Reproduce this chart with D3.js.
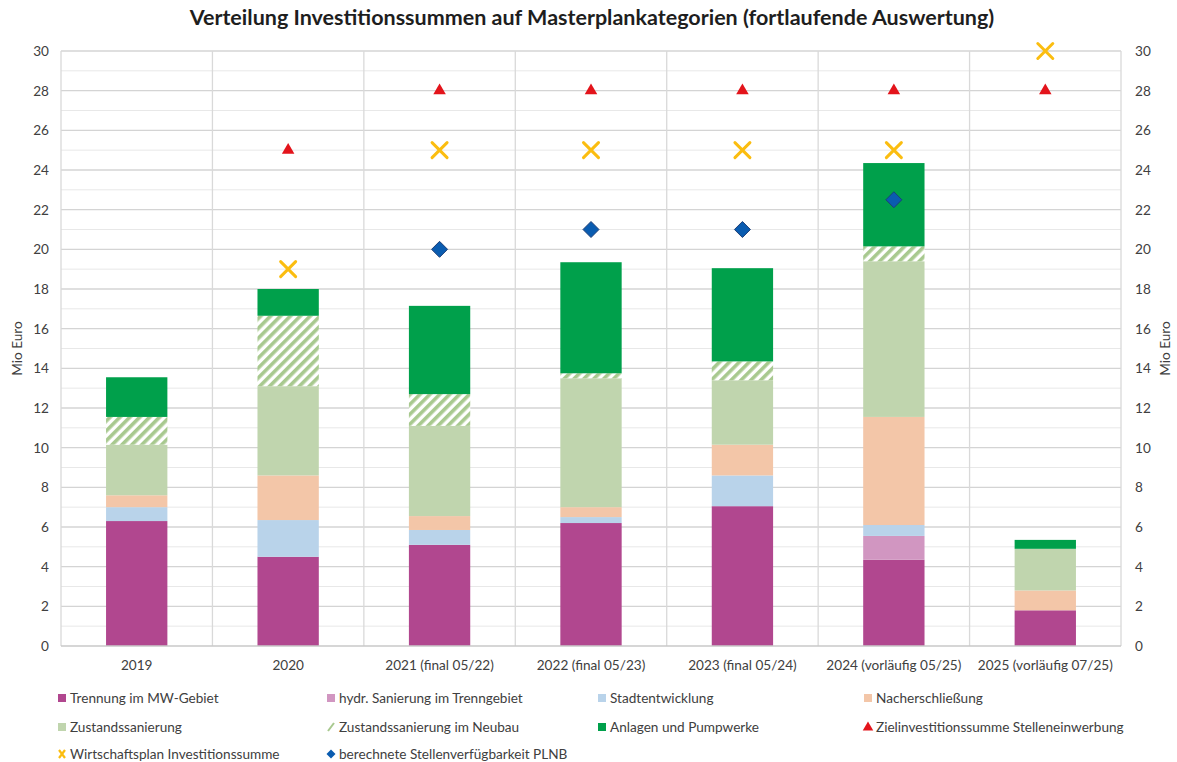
<!DOCTYPE html>
<html>
<head>
<meta charset="utf-8">
<script src="https://cdn.jsdelivr.net/npm/d3@7"></script>
<style>
  body { margin: 0; background: #fff; }
  text { font-family: Lato, "Open Sans", sans-serif; fill: #404040; }
</style>
</head>
<body>
<div id="chart"></div>
<script>
"use strict";

var categories = ["2019", "2020", "2021 (final 05/22)", "2022 (final 05/23)", "2023 (final 05/24)", "2024 (vorläufig 05/25)", "2025 (vorläufig 07/25)"];

// gestapelte Balken (Mio Euro)
var trennung = [6.3, 4.5, 5.1, 6.2, 7.05, 4.35, 1.8];
var hydrSanierung = [0, 0, 0, 0, 0, 1.2, 0];
var stadtentwicklung = [0.7, 1.85, 0.75, 0.3, 1.55, 0.55, 0];
var nacherschliessung = [0.6, 2.25, 0.7, 0.5, 1.55, 5.45, 1.0];
var zustandssanierung = [2.55, 4.5, 4.55, 6.5, 3.25, 7.85, 2.1];
var zustandNeubau = [1.4, 3.55, 1.6, 0.25, 0.95, 0.75, 0];
var anlagen = [2.0, 1.35, 4.45, 5.6, 4.7, 4.2, 0.45];

// Punkte
var zielSumme = [null, 25, 28, 28, 28, 28, 28];
var wirtschaftsplan = [null, 19, 25, 25, 25, 25, 30];
var stellen = [null, null, 20, 21, 21, 22.5, null];

var yTicks = [0, 2, 4, 6, 8, 10, 12, 14, 16, 18, 20, 22, 24, 26, 28, 30];

var series = [
    {key: "trennung", name: "Trennung im MW-Gebiet", values: trennung, color: "#b1478f"},
    {key: "hydr", name: "hydr. Sanierung im Trenngebiet", values: hydrSanierung, color: "#d196c1"},
    {key: "stadt", name: "Stadtentwicklung", values: stadtentwicklung, color: "#b9d3ea"},
    {key: "nacher", name: "Nacherschließung", values: nacherschliessung, color: "#f3c6a8"},
    {key: "zustand", name: "Zustandssanierung", values: zustandssanierung, color: "#c0d5ae"},
    {key: "neubau", name: "Zustandssanierung im Neubau", values: zustandNeubau, color: "url(#hatch)"},
    {key: "anlagen", name: "Anlagen und Pumpwerke", values: anlagen, color: "#00a04b"}
];

var W = 1177, H = 762;
var mLeft = 61, mRight = 1121, mTop = 51, mBottom = 646;
var fs = 13.6;

var svg = d3.select("#chart").append("svg")
    .attr("width", W)
    .attr("height", H);

var pattern = svg.append("defs").append("pattern")
    .attr("id", "hatch")
    .attr("patternUnits", "userSpaceOnUse")
    .attr("width", 7)
    .attr("height", 7)
    .attr("patternTransform", "rotate(45)");
pattern.append("rect").attr("width", 7).attr("height", 7).attr("fill", "#fff");
pattern.append("rect").attr("width", 3.6).attr("height", 7).attr("fill", "#a8c98f");

var x = d3.scaleBand().domain(categories).range([mLeft, mRight]);
var y = d3.scaleLinear().domain([0, 30]).range([mBottom, mTop]);

// Gitter
svg.append("g").selectAll("line").data(d3.range(1, 31)).enter()
    .append("line")
        .attr("x1", mLeft).attr("x2", mRight)
        .attr("y1", function(d){ return y(d); })
        .attr("y2", function(d){ return y(d); })
        .attr("stroke", function(d){ return d % 2 === 0 ? "#d4d4d4" : "#e8e8e8"; })
        .attr("stroke-width", function(d){ return d % 2 === 0 ? 1.3 : 1; });

svg.append("g").selectAll("line").data(d3.range(categories.length + 1)).enter()
    .append("line")
        .attr("x1", function(d){ return mLeft + d * x.bandwidth(); })
        .attr("x2", function(d){ return mLeft + d * x.bandwidth(); })
        .attr("y1", mTop).attr("y2", mBottom)
        .attr("stroke", "#d9d9d9")
        .attr("stroke-width", 1.3);

// Balken
var rows = categories.map(function(c, i){
    var r = {cat: c};
    series.forEach(function(s){ r[s.key] = s.values[i]; });
    return r;
});
var stacked = d3.stack().keys(series.map(function(s){ return s.key; }))(rows);
var barW = x.bandwidth() * 0.405;

svg.append("g").selectAll("g").data(stacked).enter()
    .append("g")
        .attr("fill", function(d, i){ return series[i].color; })
    .selectAll("rect").data(function(d){ return d; }).enter()
    .append("rect")
        .attr("x", function(d){ return x(d.data.cat) + (x.bandwidth() - barW) / 2; })
        .attr("y", function(d){ return y(d[1]); })
        .attr("width", barW)
        .attr("height", function(d){ return y(d[0]) - y(d[1]); });

// x-Achse
svg.append("line")
    .attr("x1", mLeft).attr("x2", mRight)
    .attr("y1", mBottom).attr("y2", mBottom)
    .attr("stroke", "#c8c8c8").attr("stroke-width", 1.3);

var xAxis = svg.append("g")
    .attr("transform", "translate(0," + mBottom + ")")
    .call(d3.axisBottom(x).tickSize(0).tickPadding(14));
xAxis.select(".domain").remove();
xAxis.selectAll("text").attr("font-size", fs);

// y-Achsen
var yLeft = svg.append("g")
    .attr("transform", "translate(" + (mLeft - 12) + ",0)")
    .call(d3.axisLeft(y).tickValues(yTicks).tickSize(0).tickPadding(0));
var yRight = svg.append("g")
    .attr("transform", "translate(" + (mRight + 14) + ",0)")
    .call(d3.axisRight(y).tickValues(yTicks).tickSize(0).tickPadding(0));
[yLeft, yRight].forEach(function(a){
    a.select(".domain").remove();
    a.selectAll("text").attr("font-size", fs);
});
svg.selectAll(".tick text").style("font-family", "Lato, sans-serif").style("fill", "#404040");

svg.append("text")
    .attr("transform", "translate(22," + ((mTop + mBottom) / 2) + ") rotate(-90)")
    .attr("text-anchor", "middle")
    .attr("font-size", fs)
    .text("Mio Euro");
svg.append("text")
    .attr("transform", "translate(1170," + ((mTop + mBottom) / 2) + ") rotate(-90)")
    .attr("text-anchor", "middle")
    .attr("font-size", fs)
    .text("Mio Euro");

// Titel
svg.append("text")
    .attr("x", 592).attr("y", 25)
    .attr("text-anchor", "middle")
    .attr("font-size", 21.5)
    .attr("font-weight", "bold")
    .style("fill", "#1e1e1e")
    .text("Verteilung Investitionssummen auf Masterplankategorien (fortlaufende Auswertung)");

// Markierungen
function points(values){
    return values.map(function(v, i){ return {i: i, v: v}; })
        .filter(function(d){ return d.v !== null; });
}
var cx = function(i){ return x(categories[i]) + x.bandwidth() / 2; };

svg.append("g").selectAll("path").data(points(zielSumme)).enter()
    .append("path")
        .attr("d", d3.symbol().type(d3.symbolTriangle).size(68))
        .attr("transform", function(d){ return "translate(" + cx(d.i) + "," + y(d.v) + ")"; })
        .attr("fill", "#e3141b");

svg.append("g").selectAll("path").data(points(wirtschaftsplan)).enter()
    .append("path")
        .attr("d", "M-7.5,-7.5L7.5,7.5M-7.5,7.5L7.5,-7.5")
        .attr("transform", function(d){ return "translate(" + cx(d.i) + "," + y(d.v) + ")"; })
        .attr("fill", "none")
        .attr("stroke", "#fbbd10").attr("stroke-width", 3).attr("stroke-linecap", "round");

svg.append("g").selectAll("path").data(points(stellen)).enter()
    .append("path")
        .attr("d", "M0,-8L8,0L0,8L-8,0Z")
        .attr("transform", function(d){ return "translate(" + cx(d.i) + "," + y(d.v) + ")"; })
        .attr("fill", "#0a5cb0")
        .attr("stroke", "#1d3f78")
        .attr("stroke-width", 1);

// Legende
var legendCols = [58, 327, 598, 864];
var legendRows = [698, 727, 754];
var legendItems = series.map(function(s){ return {name: s.name, type: s.key === "neubau" ? "slash" : "square", color: s.color}; })
    .concat([
        {name: "Zielinvestitionssumme Stelleneinwerbung", type: "triangle", color: "#e3141b"},
        {name: "Wirtschaftsplan Investitionssumme", type: "x", color: "#fbbd10"},
        {name: "berechnete Stellenverfügbarkeit PLNB", type: "diamond", color: "#0a5cb0"}
    ]);

var legend = svg.append("g").selectAll("g").data(legendItems).enter()
    .append("g")
        .attr("transform", function(d, i){ return "translate(" + legendCols[i % 4] + "," + legendRows[Math.floor(i / 4)] + ")"; });

legend.each(function(d){
    var g = d3.select(this);
    if (d.type === "square") {
        g.append("rect").attr("x", 0).attr("y", -4).attr("width", 8).attr("height", 8).attr("fill", d.color);
    } else if (d.type === "slash") {
        g.append("line").attr("x1", 1).attr("y1", 4).attr("x2", 7).attr("y2", -4)
            .attr("stroke", "#a8c98f").attr("stroke-width", 2);
    } else if (d.type === "triangle") {
        g.append("path").attr("d", d3.symbol().type(d3.symbolTriangle).size(48)).attr("transform", "translate(4,0.5)").attr("fill", d.color);
    } else if (d.type === "x") {
        g.append("path").attr("d", "M1,-4L7,4M1,4L7,-4").attr("stroke", d.color).attr("stroke-width", 2.2);
    } else {
        g.append("path").attr("d", "M4,-4.5L8.5,0L4,4.5L-0.5,0Z").attr("fill", d.color);
    }
    g.append("text")
        .attr("x", 12).attr("y", 4.7)
        .attr("font-size", fs)
        .text(d.name);
});
</script>
</body>
</html>
